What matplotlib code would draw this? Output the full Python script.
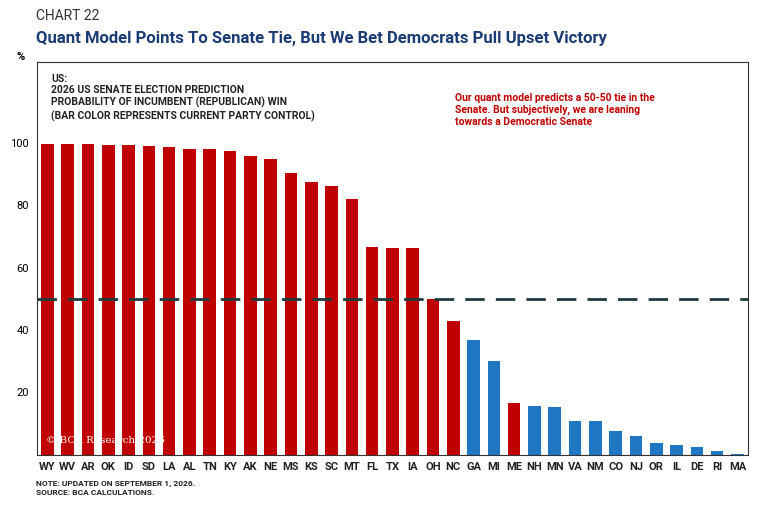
import matplotlib
matplotlib.use("Agg")
import matplotlib.pyplot as plt

states = ["WY","WV","AR","OK","ID","SD","LA","AL","TN","KY","AK","NE","MS","KS","SC","MT","FL","TX","IA","OH","NC","GA","MI","ME","NH","MN","VA","NM","CO","NJ","OR","IL","DE","RI","MA"]
values = [99.8,99.7,99.6,99.4,99.3,99.2,98.6,98.2,98.0,97.5,95.8,94.8,90.3,87.6,86.1,82.1,66.7,66.3,66.3,50.1,43.0,36.7,30.1,16.6,15.8,15.4,10.9,10.8,7.6,6.0,3.7,3.1,2.4,1.2,0.2]
party = ["R"]*21 + ["D","D","R"] + ["D"]*11
threshold = 50

colors = {"R": "#c00000", "D": "#1f77c4"}
plt.rcParams['font.family'] = ['Roboto', 'DejaVu Sans']
fig = plt.figure(figsize=(7.59, 5.21), dpi=100)
ax = fig.add_axes([0.049, 0.127, 0.936, 0.754])
x = range(len(states))
ax.bar(x, values, width=0.62, color=[colors[p] for p in party])
ax.axhline(threshold, color="#1f3a3d", lw=2, dashes=(7, 4))
ax.set_xlim(-0.5, len(states) - 0.5)
ax.set_ylim(0, 126)
ax.set_xticks(list(x))
ax.set_xticklabels(states, fontsize=8, fontweight="bold", color="#222222")
ax.set_yticks([20, 40, 60, 80, 100])
ax.tick_params(axis="y", labelsize=8, length=0, pad=6)
ax.tick_params(axis="x", length=0, pad=5)
for s in ax.spines.values():
    s.set_color("#333333"); s.set_linewidth(0.8)
ax.text(0.02, 0.97, "US:\n2026 US SENATE ELECTION PREDICTION\nPROBABILITY OF INCUMBENT (REPUBLICAN) WIN\n(BAR COLOR REPRESENTS CURRENT PARTY CONTROL)",
        transform=ax.transAxes, va="top", ha="left", fontsize=7.5, fontweight="bold", color="#222222", linespacing=1.2)
ax.text(0.588, 0.92, "Our quant model predicts a 50-50 tie in the\nSenate. But subjectively, we are leaning\ntowards a Democratic Senate",
        transform=ax.transAxes, va="top", ha="left", fontsize=7.5, fontweight="bold", color="#c00000", linespacing=1.2)
ax.text(0.012, 0.03, "© BCA Research 2026", transform=ax.transAxes, fontsize=7.5, color="white", family="DejaVu Serif")
fig.text(0.022, 0.885, "%", fontsize=8, fontweight="bold")
fig.text(0.047, 0.962, "CHART 22", fontsize=10, color="#333333")
fig.text(0.047, 0.918, "Quant Model Points To Senate Tie, But We Bet Democrats Pull Upset Victory", fontsize=12, fontweight="bold", color="#1a3b73")
fig.text(0.047, 0.048, "NOTE: UPDATED ON SEPTEMBER 1, 2026.\nSOURCE: BCA CALCULATIONS.", fontsize=6, fontweight="bold", color="#222222", linespacing=1.3, va="bottom")
fig.savefig("out.png", dpi=100)
